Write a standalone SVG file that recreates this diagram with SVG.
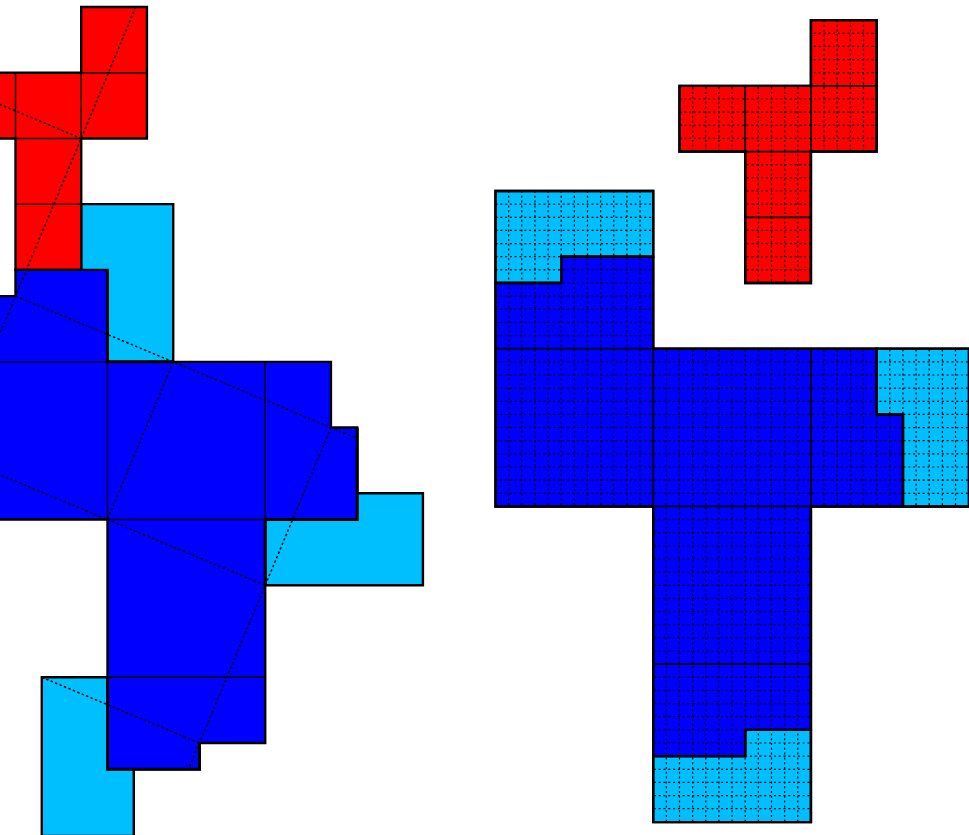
<svg xmlns="http://www.w3.org/2000/svg" width="969" height="835" viewBox="0 0 969 835">
<style>
.o{stroke:#000;stroke-width:2.4;stroke-linejoin:miter}
.r{fill:#f00}.b{fill:#00f}.c{fill:#00bfff}
.n{fill:none;stroke:#000}
.t{stroke-width:1.4}
.d{stroke-width:1.5;stroke-dasharray:2.4 2.4}
.g{stroke-width:1.2;stroke-dasharray:2 2.8}
</style>
<defs>
<clipPath id="redClip"><path d="M811.43 20.14H877.14V151.57H811.43V283H745.71V151.57H680V85.86H811.43Z"/></clipPath>
<clipPath id="blueClip"><path d="M496 191H653.71V348.71H969V506.43H811.43V822H653.71V506.43H496Z"/></clipPath>
</defs>
<rect width="969" height="835" fill="#fff"/>
<g transform="translate(-0.5 0)">
<g id="left-figure">
<g id="left-cyan-top"><path class="o c" d="M81.71 204.14H173.71V361.86H81.71Z"/></g>
<g id="left-cyan-right"><path class="o c" d="M357.71 493.29H423.43V585.29H265.71V493.29Z"/></g>
<g id="left-cyan-bottom"><path class="o c" d="M42.29 677.29H134.29V836H42.29Z"/></g>
<g id="left-red"><path class="o r" d="M81.71 7H147.43V138.43H81.71V269.86H16V138.43H-3V72.71H81.71Z"/></g>
<g id="left-blue"><path class="o b" d="M16 269.86H108V361.86H331.43V427.57H357.71V519.57H265.71V743H200V769.29H108V519.57H-3V296.14H16Z"/></g>
</g>
<g id="left-lines">
<path class="n t" d="M16 72.71V138.43M81.71 72.71V138.43H16M81.71 72.71H147.43M16 204.14H81.71M-3 361.86H108V519.57M265.71 361.86V519.57M108 519.57H265.71M108 677.29H265.71"/>
<path class="n" stroke-width="3" d="M108 269.86V361.86H173.71M265.71 519.57V585.29M357.71 427.57V519.57H265.71M108 677.29V769.29H200V743"/>
<path class="n d" d="M136.2 7L81.71 138.43L16 296.14L0 334.6M0 104.2L81.71 138.43M16 296.14L173.71 361.86L331.43 427.57L357.71 438.5M173.71 361.86L108 519.57L0 474.6M108 519.57L265.71 585.29M331.43 427.57L265.71 585.29L200 743L189 769.29M42.29 677.29L200 743"/>
</g>
<g id="right-figure">
<g id="right-red"><path class="o r" d="M811.43 20.14H877.14V151.57H811.43V283H745.71V151.57H680V85.86H811.43Z"/></g>
<g id="right-cyan-a"><path class="o c" d="M496 191H653.71V256.71H561.71V283H496Z"/></g>
<g id="right-cyan-b"><path class="o c" d="M877.14 348.71H969.5V506.43H903.43V414.43H877.14Z"/></g>
<g id="right-cyan-c"><path class="o c" d="M811.43 729.86V822.14H653.71V756.14H745.71V729.86Z"/></g>
<g id="right-blue"><path class="o b" d="M561.71 256.71H653.71V348.71H877.14V414.43H903.43V506.43H811.43V729.86H745.71V756.14H653.71V506.43H496V283H561.71Z"/></g>
</g>
<g id="right-grid">
<path clip-path="url(#redClip)" class="n g" d="M693.14 20V283M706.29 20V283M719.43 20V283M732.57 20V283M745.71 20V283M758.86 20V283M772 20V283M785.14 20V283M798.29 20V283M811.43 20V283M824.57 20V283M837.71 20V283M850.86 20V283M864 20V283M680 33.29H877M680 46.43H877M680 59.57H877M680 72.71H877M680 85.86H877M680 99H877M680 112.14H877M680 125.29H877M680 138.43H877M680 151.57H877M680 164.71H877M680 177.86H877M680 191H877M680 204.14H877M680 217.29H877M680 230.43H877M680 243.57H877M680 256.71H877M680 269.86H877"/>
<path clip-path="url(#blueClip)" class="n g" d="M509.14 191V822M522.29 191V822M535.43 191V822M548.57 191V822M561.71 191V822M574.86 191V822M588 191V822M601.14 191V822M614.29 191V822M627.43 191V822M640.57 191V822M653.71 191V822M666.86 191V822M680 191V822M693.14 191V822M706.29 191V822M719.43 191V822M732.57 191V822M745.71 191V822M758.86 191V822M772 191V822M785.14 191V822M798.29 191V822M811.43 191V822M824.57 191V822M837.71 191V822M850.86 191V822M864 191V822M877.14 191V822M890.29 191V822M903.43 191V822M916.57 191V822M929.71 191V822M942.86 191V822M956 191V822M496 204.14H969M496 217.29H969M496 230.43H969M496 243.57H969M496 256.71H969M496 269.86H969M496 283H969M496 296.14H969M496 309.29H969M496 322.43H969M496 335.57H969M496 348.71H969M496 361.86H969M496 375H969M496 388.14H969M496 401.29H969M496 414.43H969M496 427.57H969M496 440.71H969M496 453.86H969M496 467H969M496 480.14H969M496 493.29H969M496 506.43H969M496 519.57H969M496 532.71H969M496 545.86H969M496 559H969M496 572.14H969M496 585.29H969M496 598.43H969M496 611.57H969M496 624.71H969M496 637.86H969M496 651H969M496 664.14H969M496 677.29H969M496 690.43H969M496 703.57H969M496 716.71H969M496 729.86H969M496 743H969M496 756.14H969M496 769.29H969M496 782.43H969M496 795.57H969M496 808.71H969"/>
</g>
<g id="right-outlines">
<path class="n" stroke-width="2.4" d="M811.43 20.14H877.14V151.57H811.43V283H745.71V151.57H680V85.86H811.43ZM496 191H653.71V348.71H969.5V506.43H811.43V822.14H653.71V506.43H496ZM496 283H561.71V256.71H653.71M877.14 348.71V414.43H903.43V506.43M811.43 729.86H745.71V756.14H653.71"/>
<path class="n" stroke-width="1.8" d="M745.71 85.86V151.57M811.43 85.86V151.57M811.43 85.86H877.14M745.71 151.57H811.43M745.71 217.29H811.43M496 348.71H653.71M653.71 348.71V506.43M811.43 348.71V506.43M653.71 506.43H811.43M653.71 664.14H811.43"/>
</g>
</g>
</svg>
